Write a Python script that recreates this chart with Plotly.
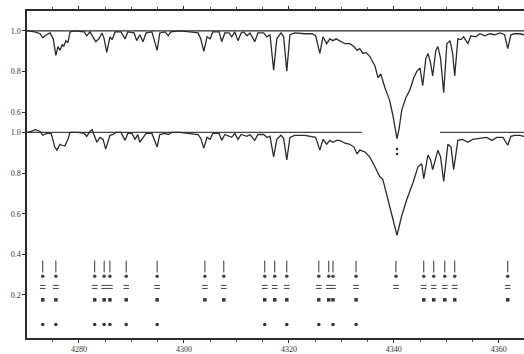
import plotly.graph_objects as go

# --- Spectrum data (wavelength in Angstrom, normalised flux) ---
wl_upper = [4270.1, 4271.6, 4272.6, 4273.1, 4273.8, 4274.5, 4275.1, 4275.6, 4276.0, 4276.4,
            4276.8, 4277.1, 4277.5, 4277.9, 4278.3, 4279.2, 4281.0, 4281.5, 4282.1, 4282.7,
            4283.2, 4283.8, 4284.4, 4284.8, 4285.3, 4285.9, 4286.3, 4286.9, 4288.0, 4288.8,
            4289.3, 4290.5, 4291.0, 4291.6, 4292.2, 4292.8, 4293.9, 4294.9, 4295.4, 4296.4,
            4297.0, 4297.5, 4299.2, 4301.1, 4302.7, 4303.2, 4303.8, 4304.4, 4305.0, 4305.5,
            4306.7, 4307.2, 4307.8, 4308.6, 4309.1, 4309.7, 4310.3, 4310.9, 4311.4, 4312.0,
            4312.6, 4313.5, 4314.1, 4315.2, 4315.8, 4316.4, 4317.1, 4317.7, 4318.5, 4319.0,
            4319.6, 4320.2, 4321.1, 4323.0, 4324.4, 4325.1, 4325.9, 4326.5, 4327.2, 4327.8,
            4328.4, 4329.0, 4329.7, 4330.7, 4331.6, 4332.4, 4333.0, 4333.5, 4334.1, 4334.7,
            4335.4, 4336.4, 4337.0, 4337.5, 4338.3, 4339.2, 4339.8, 4340.2, 4340.6, 4341.0,
            4341.5, 4342.3, 4343.0, 4343.8, 4344.4, 4345.0, 4345.5, 4346.1, 4346.5, 4347.0,
            4347.4, 4348.0, 4348.4, 4348.9, 4349.5, 4350.1, 4350.7, 4351.2, 4351.6, 4352.2,
            4352.8, 4353.3, 4354.1, 4354.7, 4355.6, 4356.4, 4357.3, 4358.3, 4359.2, 4360.2,
            4361.1, 4361.7, 4362.3, 4363.0, 4364.0, 4364.8]
flux_upper = [1.000, 0.995, 0.986, 0.966, 0.981, 0.990, 0.961, 0.880, 0.923, 0.904,
              0.933, 0.923, 0.952, 0.942, 0.995, 1.000, 0.995, 0.976, 0.995, 0.971,
              0.947, 0.961, 0.990, 0.961, 0.894, 0.971, 0.957, 0.995, 0.995, 0.961,
              0.995, 0.990, 0.952, 0.981, 0.947, 0.990, 0.995, 0.904, 0.990, 0.995,
              0.976, 0.995, 1.000, 0.995, 0.990, 0.961, 0.899, 0.971, 0.961, 0.995,
              0.995, 0.947, 0.990, 0.990, 0.971, 0.995, 0.952, 0.990, 0.995, 0.976,
              0.990, 0.947, 0.990, 0.990, 0.971, 0.981, 0.807, 0.961, 0.990, 0.971,
              0.802, 0.981, 0.990, 0.986, 0.986, 0.976, 0.889, 0.971, 0.937, 0.961,
              0.952, 0.961, 0.952, 0.937, 0.937, 0.923, 0.904, 0.913, 0.889, 0.894,
              0.875, 0.827, 0.769, 0.788, 0.720, 0.658, 0.586, 0.518, 0.470, 0.518,
              0.610, 0.672, 0.706, 0.769, 0.802, 0.817, 0.730, 0.865, 0.889, 0.841,
              0.778, 0.904, 0.923, 0.865, 0.696, 0.937, 0.952, 0.889, 0.778, 0.961,
              0.957, 0.971, 0.937, 0.976, 0.971, 0.986, 0.976, 0.986, 0.981, 0.990,
              0.981, 0.913, 0.981, 0.986, 0.986, 0.981]

wl_lower = [4270.1, 4270.9, 4271.7, 4272.6, 4273.1, 4273.9, 4274.7, 4275.4, 4275.8, 4276.4,
            4276.8, 4277.3, 4277.9, 4278.3, 4279.8, 4281.0, 4281.5, 4282.1, 4282.5, 4283.0,
            4283.4, 4284.0, 4284.6, 4285.1, 4285.9, 4286.5, 4287.0, 4288.0, 4288.8, 4289.3,
            4290.1, 4290.7, 4291.2, 4291.6, 4292.2, 4292.8, 4293.9, 4294.9, 4295.4, 4296.4,
            4297.0, 4297.7, 4299.2, 4301.1, 4302.7, 4303.2, 4303.8, 4304.4, 4305.0, 4305.5,
            4306.7, 4307.2, 4307.8, 4309.1, 4309.7, 4310.3, 4310.9, 4312.0, 4312.6, 4313.5,
            4314.1, 4315.2, 4315.8, 4316.4, 4317.1, 4317.7, 4318.5, 4319.0, 4319.6, 4320.2,
            4321.1, 4323.0, 4324.4, 4325.1, 4325.9, 4326.5, 4327.2, 4327.8, 4328.4, 4329.1,
            4329.7, 4330.7, 4331.6, 4332.4, 4333.0, 4333.5, 4334.5, 4335.4, 4336.4, 4337.3,
            4337.9, 4338.9, 4339.8, 4340.6, 4341.5, 4342.5, 4343.6, 4344.6, 4345.3, 4345.7,
            4346.5, 4347.0, 4347.4, 4348.4, 4348.9, 4349.5, 4350.3, 4350.9, 4351.4, 4352.2,
            4353.1, 4354.1, 4355.0, 4356.4, 4357.7, 4358.7, 4359.6, 4360.8, 4361.7, 4362.3,
            4363.0, 4364.0, 4364.8]
flux_lower = [1.000, 1.005, 1.014, 1.005, 0.986, 0.995, 0.995, 0.928, 0.913, 0.942,
              0.937, 0.933, 0.966, 1.000, 1.000, 0.995, 0.981, 1.005, 1.014, 0.981,
              0.952, 0.976, 0.966, 0.918, 0.986, 0.990, 1.000, 1.000, 0.961, 0.995,
              0.995, 0.966, 0.990, 0.952, 0.976, 0.995, 0.995, 0.928, 0.990, 0.995,
              0.990, 1.000, 1.000, 0.995, 0.990, 0.971, 0.923, 0.976, 0.966, 0.995,
              0.995, 0.961, 0.990, 0.976, 0.995, 0.966, 0.990, 0.981, 0.990, 0.961,
              0.990, 0.990, 0.976, 0.981, 0.880, 0.966, 0.986, 0.971, 0.865, 0.976,
              0.986, 0.986, 0.981, 0.976, 0.913, 0.966, 0.942, 0.961, 0.952, 0.961,
              0.961, 0.947, 0.942, 0.928, 0.894, 0.913, 0.904, 0.880, 0.831, 0.783,
              0.769, 0.672, 0.576, 0.494, 0.590, 0.672, 0.749, 0.831, 0.846, 0.773,
              0.889, 0.865, 0.817, 0.913, 0.880, 0.759, 0.942, 0.928, 0.817, 0.961,
              0.966, 0.952, 0.966, 0.971, 0.976, 0.961, 0.976, 0.976, 0.937, 0.981,
              0.986, 0.986, 0.981]

# the upper tracing is shifted up by this amount
upper_offset = 0.5

# individual readings below the H-gamma core of the upper tracing
core_wl = [4340.6, 4340.6]
core_flux = [0.418, 0.394]

# continuum of the lower tracing (drawn in two pieces around the H-gamma core)
lower_cont_wl = [4270.1, 4333.9, None, 4348.8, 4364.8]
lower_cont_flux = [1.0, 1.0, None, 1.0, 1.0]

# line identifications
id_wl = [4273.1, 4275.6, 4283.0, 4284.8, 4285.9, 4289.0, 4294.9, 4304.0, 4307.6, 4315.4,
         4317.3, 4319.6, 4325.7, 4327.6, 4328.4, 4332.8, 4340.4, 4345.7, 4347.6, 4349.7,
         4351.6, 4361.7]
id_lab = [True, True, True, True, True, True, True, False, False, True,
          False, True, True, False, True, True, False, False, False, False,
          False, False]

x_range = [4270.1, 4364.8]
y_range = [-0.012, 1.598]
x_tickvals = [4280, 4300, 4320, 4340, 4360]
x_ticktext = ["4280", "4300", "4320", "4340", "4360"]
y_tickvals = [0.2, 0.4, 0.6, 0.8, 1.0, 1.1, 1.3, 1.5]
y_ticktext = ["0.2", "0.4", "0.6", "0.8", "1.0", "0.6", "0.8", "1.0"]

ink = "#2b2b2b"

fig = go.Figure()

# upper continuum
fig.add_trace(go.Scatter(x=x_range, y=[1.0 + upper_offset] * 2, mode="lines",
                         line=dict(color=ink, width=1.4), hoverinfo="skip"))
# lower continuum
fig.add_trace(go.Scatter(x=lower_cont_wl, y=lower_cont_flux, mode="lines",
                         line=dict(color="#444", width=1.2), hoverinfo="skip"))

# upper tracing
fig.add_trace(go.Scatter(x=wl_upper, y=[f + upper_offset for f in flux_upper], mode="lines",
                         line=dict(color=ink, width=1.3)))
fig.add_trace(go.Scatter(x=core_wl, y=[f + upper_offset for f in core_flux], mode="markers",
                         marker=dict(color=ink, size=2.5)))
# lower tracing
fig.add_trace(go.Scatter(x=wl_lower, y=flux_lower, mode="lines",
                         line=dict(color=ink, width=1.3)))

# identification ticks
seg_x, seg_y = [], []
for w in id_wl:
    seg_x += [w, w, None]
    seg_y += [0.311, 0.369, None]
fig.add_trace(go.Scatter(x=seg_x, y=seg_y, mode="lines",
                         line=dict(color="#333", width=1.0), hoverinfo="skip"))

# identification annotations in rows below each tick
fig.add_trace(go.Scatter(x=id_wl, y=[0.292] * len(id_wl), mode="markers",
                         marker=dict(symbol="circle", size=3.5, color="#444")))
fig.add_trace(go.Scatter(x=id_wl, y=[0.247] * len(id_wl), mode="markers",
                         marker=dict(symbol="line-ew-open", size=4, color="#444",
                                     line=dict(width=1.0))))
fig.add_trace(go.Scatter(x=id_wl, y=[0.232] * len(id_wl), mode="markers",
                         marker=dict(symbol="line-ew-open", size=4, color="#444",
                                     line=dict(width=1.0))))
row3 = [w for w in id_wl if abs(w - 4340.4) > 0.5]
fig.add_trace(go.Scatter(x=row3, y=[0.176] * len(row3), mode="markers",
                         marker=dict(symbol="square", size=3.5, color="#333")))
dots = [w for w, has in zip(id_wl, id_lab) if has]
fig.add_trace(go.Scatter(x=dots, y=[0.055] * len(dots), mode="markers",
                         marker=dict(symbol="circle", size=3.5, color="#333")))

tick_font = dict(family="Liberation Serif", size=8, color="#333")

fig.update_layout(
    width=524, height=354,
    margin=dict(l=27, r=0, t=11, b=9),
    paper_bgcolor="white", plot_bgcolor="white",
    showlegend=False,
    xaxis=dict(range=x_range, tickvals=x_tickvals, ticktext=x_ticktext,
               showgrid=False, zeroline=False, showline=True, linecolor=ink, linewidth=1.5,
               mirror="ticks", ticks="outside", ticklen=3, tickcolor=ink, tickwidth=1,
               tickfont=tick_font,
               minor=dict(dtick=5, tick0=4280, ticks="outside", ticklen=2, tickcolor="#555")),
    yaxis=dict(range=y_range, tickvals=y_tickvals, ticktext=y_ticktext,
               showgrid=False, zeroline=False, showline=True, linecolor=ink, linewidth=1.5,
               ticks="outside", ticklen=3, tickcolor=ink, tickfont=tick_font),
)

fig.write_html("out.html")
